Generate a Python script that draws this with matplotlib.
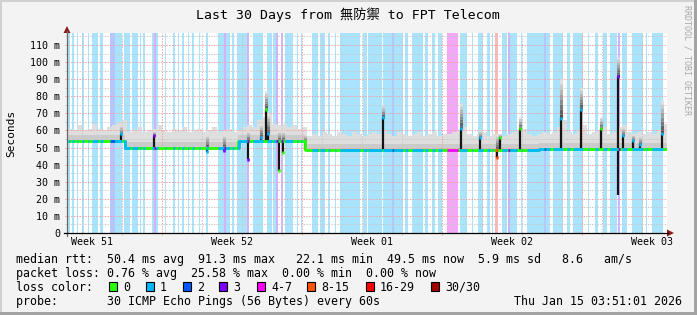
import matplotlib.pyplot as plt
from matplotlib.patches import Polygon, Rectangle
import numpy as np

W, H = 697, 315
MONO = 'DejaVu Sans Mono'

# median rtt as steps (days from the left edge, ms)
median_days = [0, 2.9, 8.55, 11.9, 23.6, 24.6, 30]
median_ms = [54.0, 49.8, 53.6, 48.6, 49.4, 49.0]

# upper edge of the smoke, one value every 6 hours
smoke_step = 0.25
smoke_top = [
    61, 60, 63, 60, 61, 64, 61, 60, 62, 63, 65, 66,
    59, 60, 62, 59, 60, 61, 63, 60, 59, 61, 60, 62, 59, 60, 61, 59, 60, 62, 59, 60, 61, 59, 60,
    62, 63, 62, 66, 68, 70, 64, 63, 64, 62, 63, 61, 62,
    57, 58, 57, 59, 58, 57, 59, 58, 57, 59, 58, 57, 58, 59, 58, 60,
    58, 57, 59, 58, 57, 58, 59, 57, 58, 59, 57, 58, 58, 59, 60, 62,
    58, 57, 58, 59, 57, 58, 58, 57, 58, 59, 60, 61, 58, 57, 58, 59,
    58, 59, 62, 66, 59, 58, 60, 63, 58, 59, 60, 62, 58, 59, 62, 63,
    59, 58, 59, 58, 59, 58, 60, 64, 60,
]

# short excursions of the pings
spike_day = [2.7, 4.35, 7.0, 7.85, 9.05, 9.7, 9.95, 10.05, 10.6, 10.8, 11.9, 15.8, 19.7,
             20.65, 21.5, 21.65, 22.65, 24.7, 25.7, 26.7, 27.55, 27.8, 28.3, 28.65, 29.75]
spike_lo = [54, 49.8, 47.5, 48, 43, 53.6, 53.6, 53.6, 36.5, 47, 48.6, 48.6, 48.6,
            48.6, 44, 48.6, 48.6, 49, 49, 49, 22.1, 49, 49, 49, 49]
spike_hi = [58, 57, 49.8, 49.8, 53.6, 56, 72, 58, 53.6, 53.6, 53.6, 67.5, 61,
            56, 48.6, 56, 61, 67, 72, 61, 91.3, 57, 54, 52, 58]
spike_top = [63, 60, 58, 58, 60, 64, 83, 70, 60, 60, 58, 75, 76,
             60, 58, 58, 68, 90, 85, 68, 103, 62, 58, 57, 78]

# packet loss periods: start day, end day, loss class
loss_start = [0.05, 0.25, 0.5, 0.75, 1.05, 1.25, 1.65, 2.15, 2.4, 2.85, 3.25, 3.65, 3.8,
              4.25, 4.35, 4.45, 4.9, 5.3, 5.55, 5.75, 6.05, 6.25, 6.6, 6.95, 7.55, 7.85,
              7.95, 8.25, 8.5, 9.0, 9.3, 10.0, 10.3, 10.45, 10.7, 10.9, 11.5, 11.7,
              12.25, 12.65, 13.05, 13.4, 13.65, 14.8, 15.05, 15.8, 16.25, 16.35, 16.9,
              17.25, 17.9, 18.25, 18.55, 19.0, 19.65, 20.25, 20.55, 21.0, 21.25, 21.4,
              21.75, 22.05, 22.15, 22.7, 23.0, 23.85, 23.95, 24.3, 25.0, 25.3, 26.05,
              26.4, 26.8, 27.15, 27.55, 27.75, 28.25, 28.95, 29.25]
loss_end = [0.15, 0.35, 0.55, 0.85, 1.1, 1.55, 1.8, 2.4, 2.75, 3.15, 3.55, 3.7, 3.9,
            4.35, 4.45, 4.55, 4.95, 5.4, 5.6, 5.85, 6.1, 6.35, 6.65, 7.05, 7.85, 7.95,
            8.15, 8.35, 9.0, 9.1, 9.8, 10.25, 10.45, 10.55, 10.8, 11.3, 11.55, 11.75,
            12.55, 12.9, 13.15, 13.45, 14.65, 15.0, 15.75, 16.25, 16.35, 16.8, 17.05,
            17.8, 18.05, 18.4, 18.75, 19.55, 20.0, 20.3, 20.8, 21.15, 21.3, 21.55,
            22.0, 22.15, 22.5, 22.75, 23.85, 23.95, 24.15, 24.8, 25.15, 25.8, 26.1,
            26.55, 27.0, 27.5, 27.65, 28.0, 28.8, 29.0, 29.8]
loss_class = [1, 1, 1, 1, 1, 1, 1, 2, 1, 1, 1, 1, 1,
              1, 3, 1, 1, 1, 1, 1, 1, 1, 1, 1, 1, 3,
              1, 1, 1, 3, 1, 1, 1, 3, 3, 1, 1, 1,
              1, 1, 1, 1, 1, 1, 1, 1, 2, 1, 1,
              1, 1, 1, 1, 4, 1, 1, 1, 1, 1, 8,
              1, 3, 1, 1, 1, 2, 1, 1, 1, 1, 1,
              1, 1, 1, 3, 1, 1, 1, 1]

loss_labels = ['0', '1', '2', '3', '4-7', '8-15', '16-29', '30/30']
loss_line = {0: '#26ff00', 1: '#00b8ff', 2: '#0059ff', 3: '#7e00ff', 4: '#ff00ff',
             8: '#ff5500', 16: '#ff0000', 30: '#a10000'}
loss_bg = {1: '#aae4fc', 2: '#b4c6ff', 3: '#d2b2fa', 4: '#f3a8f6', 8: '#ffb8b8'}

week_labels = ['Week 51', 'Week 52', 'Week 01', 'Week 02', 'Week 03']


def fx(x):
    return x / W


def fy(y):
    return 1 - y / H


def med_at(d):
    idx = np.searchsorted(median_days, d, side='right') - 1
    idx = np.clip(idx, 0, len(median_ms) - 1)
    return np.array(median_ms)[idx]


def loss_at(d):
    for s, e, c in zip(loss_start, loss_end, loss_class):
        if s <= d < e:
            return c
    return 0


fig = plt.figure(figsize=(W / 100, H / 100), dpi=100, facecolor='#f3f3f3')
ax = fig.add_axes([fx(67), fy(233), 600 / W, 200 / H])
ax.set_xlim(0, 30)
ax.set_ylim(0, 117)
ax.set_facecolor('white')
for s in ax.spines.values():
    s.set_visible(False)

# loss background
for s, e, c in zip(loss_start, loss_end, loss_class):
    ax.axvspan(s, e, color=loss_bg[c], lw=0, zorder=1)

# smoke
sd = np.arange(len(smoke_top)) * smoke_step
ax.fill_between(sd, med_at(sd) - 1.0, smoke_top, step='post', color='#dedede', lw=0, zorder=2)
med_ext = median_ms + [median_ms[-1]]
ax.fill_between(median_days, np.array(med_ext) - 0.8, np.array(med_ext) + 3.5,
                step='post', color='#cbcbcb', lw=0, zorder=2)

# grid
day_px = 30 / 600
ms_px = 117 / 200
minor_x = [0.75 + 2 * k for k in range(15)]
major_x = [4.75 + 7 * k for k in range(4)]
minor_x = [v for v in minor_x if v not in major_x]
dots = (0, (1.4, 1.4))
ax.vlines(minor_x, -2 * ms_px, 117, colors='#c8c8c8', lw=0.72, linestyles=dots,
          zorder=3, clip_on=False)
ax.vlines(major_x, -2 * ms_px, 117, colors='#f2a0a0', lw=0.72, linestyles=dots,
          zorder=3, clip_on=False)
ax.hlines(np.arange(5, 117, 10), -2 * day_px, 30, colors='#c8c8c8', lw=0.72,
          linestyles=dots, zorder=3, clip_on=False)
ax.hlines(np.arange(10, 117, 10), -2 * day_px, 30, colors='#f2a0a0', lw=0.72,
          linestyles=dots, zorder=3, clip_on=False)

# spikes
for d, lo, hi, top in zip(spike_day, spike_lo, spike_hi, spike_top):
    base = max(hi, float(med_at(d)))
    n = 8
    for i in range(n):
        g = 0.3 + 0.58 * i / (n - 1)
        y0 = base + (top - base) * i / n
        y1 = base + (top - base) * (i + 1) / n
        ax.vlines(d, y0, y1, colors=[(g, g, g)], lw=2.2, zorder=4)
    ax.vlines(d, lo, hi, colors='#151515', lw=1.6, zorder=5)

# median line, green then coloured where packets were lost
ax.step(median_days, med_ext, where='post', color=loss_line[0], lw=2.0, zorder=6,
        solid_capstyle='butt')
for s, e, c in zip(loss_start, loss_end, loss_class):
    xs = np.linspace(s, e, 12)
    ax.plot(xs, med_at(xs), drawstyle='steps-post', color=loss_line[c], lw=2.0,
            zorder=6, solid_capstyle='butt')
for d, lo, hi in zip(spike_day, spike_lo, spike_hi):
    m = float(med_at(d))
    tip = hi if hi - m >= m - lo else lo
    ax.vlines(d, tip - 0.9, tip + 0.9, colors=loss_line[loss_at(d)], lw=1.8, zorder=7)

# axes ticks and labels
ax.set_xticks([])
ax.set_yticks(np.arange(0, 111, 10))
ax.set_yticklabels(['0'] + ['%d m' % v for v in range(10, 111, 10)],
                   family=MONO, fontsize=7.2)
ax.tick_params(axis='y', length=0, pad=5)
for k, lab in enumerate(week_labels):
    ax.text(1.25 + 7 * k, -9 / 200, lab, transform=ax.get_xaxis_transform(),
            ha='center', va='center', family=MONO, fontsize=7.2)

# axis lines and arrows
fig.add_artist(plt.Line2D([fx(67), fx(67)], [fy(236), fy(31)], color='#6a6a6a', lw=0.9))
fig.add_artist(plt.Line2D([fx(64), fx(668)], [fy(233), fy(233)], color='black', lw=0.9))
fig.add_artist(Polygon([[fx(63.5), fy(33)], [fx(70.5), fy(33)], [fx(67), fy(26)]],
                       closed=True, color='#8e1b1b', lw=0))
fig.add_artist(Polygon([[fx(667), fy(229.5)], [fx(667), fy(236.5)], [fx(674), fy(233)]],
                       closed=True, color='#8e1b1b', lw=0))

# titles
fig.text(fx(348), fy(19.5), 'Last 30 Days from 無防禦 to FPT Telecom', ha='center',
         va='baseline', fontsize=9.5, family=[MONO, 'Noto Sans CJK SC'])
fig.text(fx(11), fy(133), 'Seconds', rotation=90, ha='center', va='center',
         family=MONO, fontsize=8.0)
fig.text(fx(687), fy(60), 'RRDTOOL / TOBI OETIKER', rotation=270, ha='center',
         va='center', family=MONO, fontsize=6.0, color='#a8a8a8')

# legend
rows = [
    'median rtt:  50.4 ms avg  91.3 ms max   22.1 ms min  49.5 ms now  5.9 ms sd   8.6   am/s',
    'packet loss: 0.76 % avg  25.58 % max  0.00 % min  0.00 % now',
    'loss color:',
    'probe:       30 ICMP Echo Pings (56 Bytes) every 60s',
]
for i, r in enumerate(rows):
    fig.text(fx(16), fy(263 + 14 * i), r, ha='left', va='baseline', family=MONO,
             fontsize=8.37)
fig.text(fx(682), fy(305), 'Thu Jan 15 03:51:01 2026', ha='right', va='baseline',
         family=MONO, fontsize=8.37)

box_x = [109, 146, 183, 219, 257, 307, 366, 431]
for bx, lab, key in zip(box_x, loss_labels, [0, 1, 2, 3, 4, 8, 16, 30]):
    fig.add_artist(Rectangle((fx(bx), fy(291)), 8 / W, 9 / H, facecolor=loss_line[key],
                             edgecolor='black', lw=0.8))
    fig.text(fx(bx + 14), fy(291), lab, ha='left', va='baseline', family=MONO,
             fontsize=8.37)

# frame
fig.add_artist(Rectangle((0, 1 - 2 / H), 1, 2 / H, color='#d0d0d0', lw=0))
fig.add_artist(Rectangle((0, 0), 2 / W, 1, color='#d0d0d0', lw=0))
fig.add_artist(Rectangle((0, 0), 1, 3 / H, color='#a3a3a3', lw=0))
fig.add_artist(Rectangle((1 - 3 / W, 0), 3 / W, 1, color='#a3a3a3', lw=0))

fig.savefig('out.png', dpi=100, facecolor=fig.get_facecolor())
